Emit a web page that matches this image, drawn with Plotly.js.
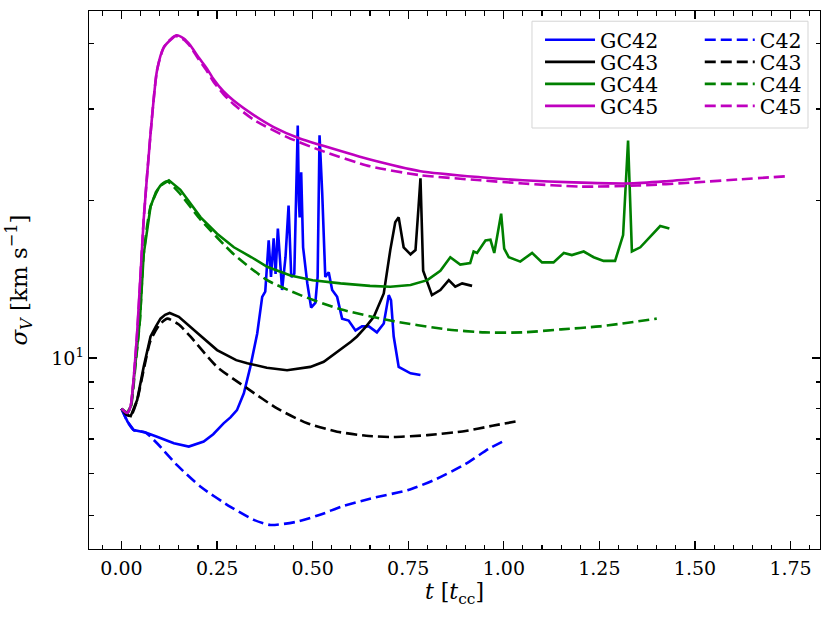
<!DOCTYPE html>
<html>
<head>
<meta charset="utf-8">
<script src="https://cdn.plot.ly/plotly-3.0.1.min.js"></script>
<style>
  body { margin: 0; background: #fff; }
  #graphDiv { width: 831px; height: 618px; }
</style>
</head>
<body>
<div id="graphDiv"></div>
<script>
// html tag
const graphDiv = document.getElementById('graphDiv');

// data **************************************************************
// GC = solid, C = dashed ; x in t_cc, y in km/s

const gc42X = [0, 0.016, 0.032, 0.063, 0.093, 0.137, 0.176, 0.215, 0.24, 0.267, 0.285, 0.302, 0.32, 0.337, 0.355, 0.368, 0.376, 0.385, 0.391, 0.398, 0.403, 0.409, 0.42, 0.429, 0.437, 0.444, 0.452, 0.461, 0.464, 0.466, 0.47, 0.475, 0.486, 0.496, 0.507, 0.513, 0.518, 0.525, 0.533, 0.542, 0.551, 0.564, 0.577, 0.594, 0.612, 0.629, 0.647, 0.668, 0.686, 0.699, 0.705, 0.712, 0.725, 0.756, 0.782];
const gc42Y = [8.0, 7.55, 7.28, 7.2, 7.07, 6.87, 6.77, 6.92, 7.15, 7.5, 7.7, 7.95, 8.56, 9.62, 11.15, 13.1, 13.4, 16.8, 14.3, 16.95, 14.5, 17.7, 13.5, 15.6, 19.6, 14.3, 14.5, 27.9, 20.0, 18.6, 22.7, 16.3, 13.9, 12.5, 12.75, 14.3, 26.7, 20.7, 14.3, 14.6, 13.5, 13.1, 11.9, 11.8, 11.3, 11.5, 11.5, 11.2, 11.65, 13.2, 12.9, 11.0, 9.62, 9.35, 9.28];

const gc43X = [0, 0.012, 0.024, 0.041, 0.058, 0.076, 0.09, 0.102, 0.114, 0.126, 0.15, 0.18, 0.2, 0.25, 0.3, 0.329, 0.38, 0.433, 0.494, 0.529, 0.55, 0.573, 0.6, 0.616, 0.64, 0.66, 0.686, 0.703, 0.716, 0.725, 0.738, 0.756, 0.769, 0.777, 0.782, 0.789, 0.812, 0.834, 0.856, 0.873, 0.891, 0.917];
const gc43Y = [8.0, 7.8, 7.74, 8.31, 9.62, 11.0, 11.5, 11.9, 12.1, 12.2, 12.0, 11.5, 11.15, 10.36, 9.91, 9.78, 9.58, 9.48, 9.62, 9.84, 10.1, 10.36, 10.75, 11.0, 11.5, 12.0, 13.3, 16.1, 18.2, 18.6, 16.3, 15.8, 16.1, 19.5, 22.1, 14.7, 13.2, 13.5, 14.1, 13.7, 13.9, 13.75];

const gc44X = [0, 0.015, 0.025, 0.036, 0.048, 0.058, 0.076, 0.09, 0.102, 0.124, 0.154, 0.18, 0.207, 0.25, 0.294, 0.34, 0.381, 0.442, 0.5, 0.573, 0.65, 0.703, 0.756, 0.8, 0.834, 0.86, 0.886, 0.912, 0.921, 0.93, 0.952, 0.965, 0.975, 0.993, 1.001, 1.013, 1.043, 1.074, 1.1, 1.13, 1.157, 1.178, 1.209, 1.235, 1.261, 1.291, 1.312, 1.325, 1.335, 1.357, 1.383, 1.409, 1.433];
const gc44Y = [8.0, 7.85, 8.1, 9.6, 11.8, 15.8, 19.5, 20.8, 21.4, 21.9, 21.0, 19.8, 18.6, 17.3, 16.3, 15.6, 14.96, 14.4, 14.1, 13.9, 13.75, 13.7, 13.8, 14.1, 14.7, 15.6, 15.1, 15.2, 16.0, 15.9, 16.8, 16.85, 15.9, 18.9, 16.2, 15.6, 15.3, 15.9, 15.25, 15.25, 15.9, 15.75, 16.0, 15.6, 15.35, 15.35, 17.2, 26.1, 16.0, 16.3, 17.1, 17.9, 17.7];

const gc45X = [0, 0.015, 0.024, 0.041, 0.058, 0.076, 0.093, 0.111, 0.144, 0.163, 0.18, 0.2, 0.224, 0.241, 0.267, 0.294, 0.346, 0.398, 0.468, 0.52, 0.65, 0.782, 0.939, 1.05, 1.183, 1.322, 1.42, 1.514];
const gc45Y = [8.0, 7.85, 8.1, 11.2, 18.4, 26.9, 35.6, 39.4, 41.5, 40.9, 39.7, 37.8, 35.8, 34.2, 32.4, 31.1, 29.2, 27.7, 26.3, 25.6, 24.0, 22.8, 22.2, 21.9, 21.7, 21.6, 21.8, 22.1];

const c42X = [0, 0.016, 0.032, 0.063, 0.093, 0.146, 0.207, 0.285, 0.346, 0.39, 0.459, 0.529, 0.573, 0.65, 0.75, 0.82, 0.9, 0.96, 1.0];
const c42Y = [8.0, 7.55, 7.28, 7.2, 6.87, 6.23, 5.67, 5.19, 4.9, 4.79, 4.86, 5.04, 5.19, 5.38, 5.59, 5.85, 6.27, 6.7, 6.94];

const c43X = [0, 0.012, 0.024, 0.041, 0.058, 0.076, 0.1, 0.12, 0.15, 0.18, 0.25, 0.329, 0.407, 0.486, 0.564, 0.64, 0.71, 0.8, 0.9, 0.97, 1.04];
const c43Y = [8.0, 7.8, 7.74, 8.31, 9.5, 10.8, 11.6, 11.9, 11.6, 11.0, 9.62, 8.75, 8.01, 7.5, 7.23, 7.1, 7.06, 7.12, 7.25, 7.42, 7.58];

const c44X = [0, 0.015, 0.025, 0.036, 0.048, 0.058, 0.076, 0.102, 0.12, 0.154, 0.207, 0.294, 0.381, 0.468, 0.573, 0.703, 0.85, 0.95, 1.05, 1.15, 1.25, 1.4];
const c44Y = [8.0, 7.85, 8.1, 9.6, 11.8, 15.8, 19.5, 21.4, 21.8, 20.6, 18.4, 15.8, 14.1, 13.2, 12.4, 11.8, 11.35, 11.2, 11.2, 11.35, 11.5, 11.9];

const c45X = [0, 0.015, 0.024, 0.041, 0.058, 0.076, 0.093, 0.111, 0.14, 0.163, 0.18, 0.2, 0.224, 0.241, 0.267, 0.294, 0.346, 0.433, 0.52, 0.65, 0.782, 0.939, 1.05, 1.2, 1.35, 1.5, 1.62, 1.741];
const c45Y = [8.0, 7.85, 8.1, 11.2, 18.4, 26.9, 35.6, 39.4, 41.4, 40.7, 39.5, 37.5, 35.4, 33.8, 32.0, 30.6, 28.6, 26.5, 25.0, 23.3, 22.4, 21.9, 21.6, 21.3, 21.4, 21.7, 22.0, 22.3];

const yMinorVals = [4, 5, 6, 7, 8, 9, 20, 30, 40];

// *******************************************************************

const serif = 'DejaVu Serif';
const lineW = 2.6;
const dashStyle = '11px,5px';

// one legend box per entry so the rows sit as tight as in the figure
const legendX = [0.617, 0.617, 0.617, 0.617, 0.8355, 0.8355, 0.8355, 0.8355];
const legendY = [0.9461, 0.9052, 0.8643, 0.8234, 0.9461, 0.9052, 0.8643, 0.8234];

function trace(name, x, y, color, dashed, smooth, k) {
  return {
    name: name,
    x: x,
    y: y,
    mode: 'lines',
    line: {
      color: color, width: lineW, dash: dashed ? dashStyle : 'solid',
      shape: smooth ? 'spline' : 'linear', smoothing: 0.6
    },
    legend: k === 0 ? 'legend' : 'legend' + (k + 1)
  };
}

const data = [
  trace('GC42', gc42X, gc42Y, '#0000ff', false, false, 0),
  trace('GC43', gc43X, gc43Y, '#000000', false, false, 1),
  trace('GC44', gc44X, gc44Y, '#008000', false, false, 2),
  trace('GC45', gc45X, gc45Y, '#bf00bf', false, true, 3),
  trace('C42', c42X, c42Y, '#0000ff', true, true, 4),
  trace('C43', c43X, c43Y, '#000000', true, true, 5),
  trace('C44', c44X, c44Y, '#008000', true, true, 6),
  trace('C45', c45X, c45Y, '#bf00bf', true, true, 7)
];

const layout = {
  width: 831,
  height: 618,
  margin: { l: 89, r: 11, t: 11, b: 69 },
  paper_bgcolor: '#fff',
  plot_bgcolor: '#fff',
  font: { family: serif, size: 19, color: '#000' },
  showlegend: true,
  xaxis: {
    range: [-0.085, 1.827],
    tickvals: [0, 0.25, 0.5, 0.75, 1.0, 1.25, 1.5, 1.75],
    ticktext: ['0.00', '0.25', '0.50', '0.75', '1.00', '1.25', '1.50', '1.75'],
    ticks: 'inside',
    ticklen: 8,
    tickwidth: 1.3,
    tickcolor: '#000',
    minor: { ticks: 'inside', dtick: 0.05, tick0: 0, ticklen: 4.5, tickwidth: 1.1, tickcolor: '#000', showgrid: false },
    showline: true,
    linecolor: '#000',
    linewidth: 1.3,
    mirror: 'allticks',
    showgrid: false,
    zeroline: false,
    ticklabelstandoff: 2,
    tickfont: { family: serif, size: 19 },
    title: { text: '<i>t</i> [<i>t</i><sub>cc</sub>]', font: { family: serif, size: 22 }, standoff: 4 }
  },
  yaxis: {
    type: 'log',
    range: [0.6344, 1.6647],
    tickvals: [10],
    ticktext: ['10<sup>1</sup>'],
    ticks: 'inside',
    ticklen: 8,
    tickwidth: 1.3,
    tickcolor: '#000',
    minor: { ticks: 'inside', tickmode: 'array', tickvals: yMinorVals, ticklen: 4.5, tickwidth: 1.1, tickcolor: '#000', showgrid: false },
    showline: true,
    linecolor: '#000',
    linewidth: 1.3,
    mirror: 'allticks',
    showgrid: false,
    zeroline: false,
    tickfont: { family: serif, size: 19 },
    title: { text: '<i>σ</i><sub><i>V</i></sub> [km s<sup>−1</sup>]', font: { family: serif, size: 23 }, standoff: 17 }
  },
  shapes: [
    {
      type: 'rect', xref: 'paper', yref: 'paper', layer: 'below',
      x0: 0.606, x1: 0.9836, y0: 0.7825, y1: 0.981,
      line: { color: '#d5d5d5', width: 1 },
      fillcolor: 'rgba(255,255,255,0.8)'
    }
  ]
};

for (let k = 0; k < 8; k++) {
  layout[k === 0 ? 'legend' : 'legend' + (k + 1)] = {
    x: legendX[k],
    y: legendY[k],
    xanchor: 'left',
    yanchor: 'middle',
    bgcolor: 'rgba(0,0,0,0)',
    borderwidth: 0,
    font: { family: serif, size: 20.5, color: '#000' },
    itemwidth: 50
  };
}

Plotly.newPlot(graphDiv, data, layout, { displayModeBar: false, staticPlot: true });
</script>
</body>
</html>
